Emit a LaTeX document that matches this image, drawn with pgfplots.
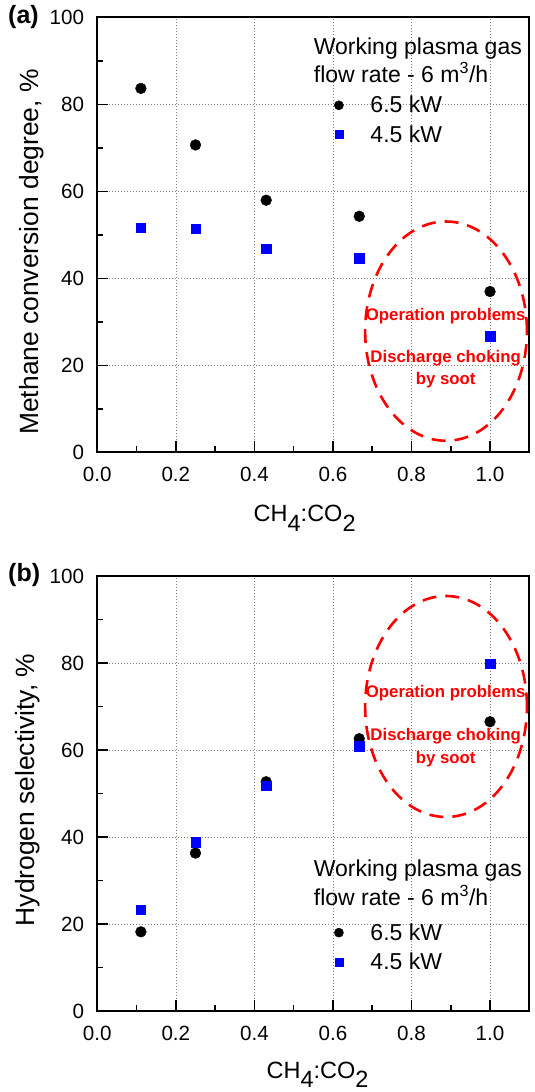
\documentclass[border=0pt]{standalone}
\usepackage{pgfplots}
\pgfplotsset{compat=1.18}
\usepackage{fontspec}
\setmainfont{Liberation Sans}
\newcommand\sub[1]{\raisebox{-0.42em}{#1}}
\pgfplotsset{
  myaxis/.style={
    scale only axis, width=432pt, height=435pt, anchor=south west,
    xmin=0, xmax=1.1, ymin=0, ymax=100,
    xtick={0,0.2,0.4,0.6,0.8,1.0}, minor xtick={0.1,0.3,0.5,0.7,0.9},
    ytick={0,20,40,60,80,100}, minor ytick={10,30,50,70,90},
    tick pos=left, tick align=inside,
    major tick length=11pt, minor tick length=6pt,
    grid=major, major grid style={gray, line width=0.6pt, dash pattern=on 1pt off 2pt},
    axis line style={line width=2pt},
    every tick/.style={black, line width=1.6pt},
    /pgf/number format/assume math mode=true,
    tick label style={font=\fontsize{20.6}{24}\selectfont, inner sep=0pt},
    x tick label style={/pgf/number format/.cd, fixed, fixed zerofill, precision=1, /tikz/.cd, anchor=north},
    y tick label style={anchor=east},
    xticklabel shift=14.5pt, yticklabel shift=13pt,
    label style={font=\fontsize{26.4}{30}\selectfont},
    legend image code/.code={\draw[##1, every mark/.append style={scale=0.85}] plot coordinates {(0pt,0pt)};},
    legend cell align=left,
    legend style={draw=none, fill=none, inner sep=0pt, outer sep=0pt, anchor=north west,
      font=\fontsize{23}{27}\selectfont, nodes={inner sep=0pt}, row sep=11.2pt,
      /tikz/every odd column/.append style={column sep=27pt}},
  },
  c65/.style={only marks, mark=*, mark size=5.4pt, black},
  c45/.style={only marks, mark=square*, mark size=4.7pt, blue},
}
\tikzset{
  ell/.style={red, line width=2.6pt, dash pattern=on 14pt off 9pt},
  redtxt/.style={red, font=\fontsize{16.8}{20}\selectfont\bfseries, anchor=base, inner sep=0pt},
  ttl/.style={font=\fontsize{23}{27}\selectfont, anchor=base west, inner sep=0pt},
  xl/.style={font=\fontsize{23.5}{28}\selectfont},
}
\begin{document}
\begin{tikzpicture}[x=1pt,y=1pt]
\path[use as bounding box] (0,0) rectangle (535,1092);
% ---------------- (a)
\begin{axis}[myaxis, at={(97.3pt,639.5pt)},
  xlabel={CH\sub{4}:CO\sub{2}},
  xlabel style={xl, at={(axis description cs:0.48,0)}, anchor=base, yshift=-69pt},
  ylabel={Methane conversion degree, \%},
  ylabel style={at={(axis description cs:-0.153,0.461)}, anchor=center},
  legend style={at={(axis cs:0.6035,81.9)}}]
\addplot[c65] coordinates {(0.111,83.7) (0.25,70.7) (0.43,58.0) (0.667,54.3) (1.0,37.0)};
\addlegendentry{6.5 kW}
\addplot[c45] coordinates {(0.111,51.7) (0.25,51.5) (0.43,46.9) (0.667,44.7) (1.0,26.7)};
\addlegendentry{4.5 kW}
\draw[ell] (axis cs:0.888,27.9) ellipse [x radius=0.206, y radius=25.2];
\node[redtxt] at (axis cs:0.887,30.3) {Operation problems};
\node[redtxt] at (axis cs:0.887,20.7) {Discharge choking};
\node[redtxt] at (axis cs:0.887,15.6) {by soot};
\node[ttl] at (axis cs:0.551,91.4) {Working plasma gas};
\node[ttl] at (axis cs:0.551,85.0) {flow rate - 6 m\textsuperscript{3}/h};
\end{axis}
\node[anchor=west, inner sep=0pt, font=\fontsize{25}{29}\selectfont\bfseries] at (8,1075.3) {(a)};
% ---------------- (b)
\begin{axis}[myaxis, at={(97.3pt,81pt)},
  xlabel={CH\sub{4}:CO\sub{2}},
  xlabel style={xl, at={(axis description cs:0.51,0)}, anchor=base, yshift=-67pt},
  ylabel={Hydrogen selectivity, \%},
  ylabel style={at={(axis description cs:-0.162,0.508)}, anchor=center},
  legend style={at={(axis cs:0.6035,20.1)}}]
\addplot[c65] coordinates {(0.111,18.2) (0.25,36.3) (0.43,52.7) (0.667,62.6) (1.0,66.5)};
\addlegendentry{6.5 kW}
\addplot[c45] coordinates {(0.111,23.3) (0.25,38.8) (0.43,51.8) (0.667,60.9) (1.0,79.8)};
\addlegendentry{4.5 kW}
\draw[ell] (axis cs:0.888,70.0) ellipse [x radius=0.206, y radius=25.4];
\node[redtxt] at (axis cs:0.887,72.0) {Operation problems};
\node[redtxt] at (axis cs:0.887,62.1) {Discharge choking};
\node[redtxt] at (axis cs:0.887,57.0) {by soot};
\node[ttl] at (axis cs:0.551,31.0) {Working plasma gas};
\node[ttl] at (axis cs:0.551,24.3) {flow rate - 6 m\textsuperscript{3}/h};
\end{axis}
\node[anchor=west, inner sep=0pt, font=\fontsize{25}{29}\selectfont\bfseries] at (8,517.3) {(b)};
\end{tikzpicture}
\end{document}
